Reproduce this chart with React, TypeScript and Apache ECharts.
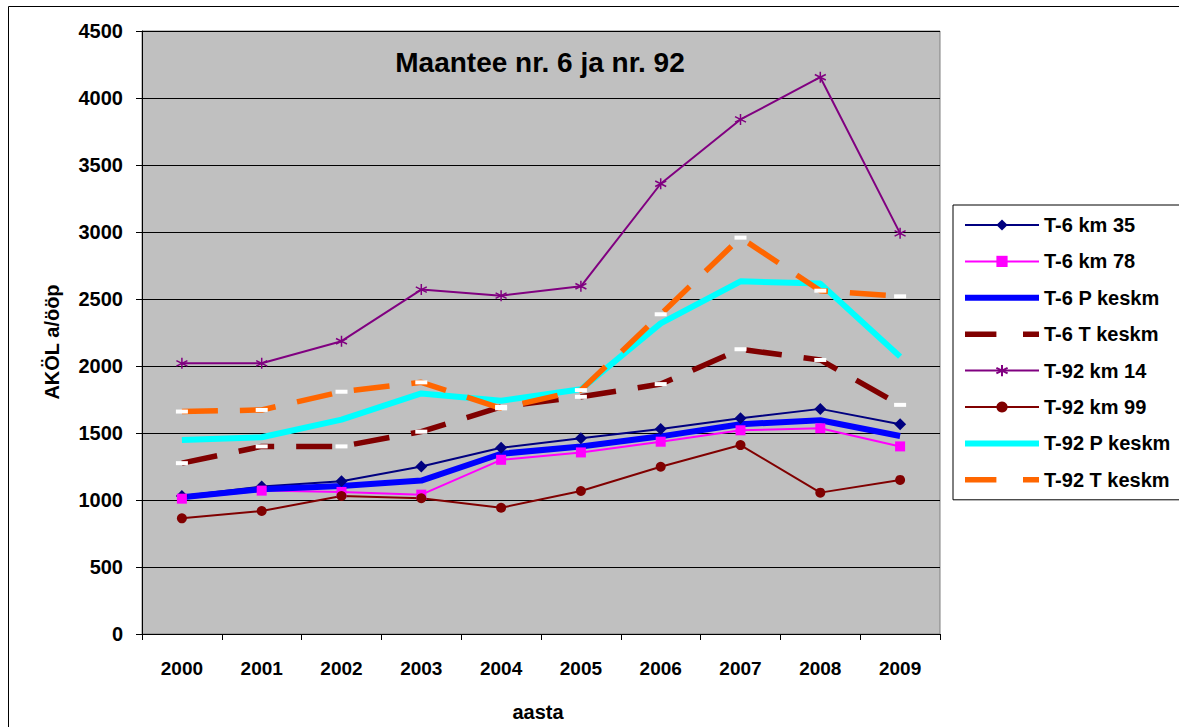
import React, { useEffect, useRef } from "react";
import * as echarts from "echarts";

const years = ["2000", "2001", "2002", "2003", "2004", "2005", "2006", "2007", "2008", "2009"];
const t6km35 = [1030, 1100, 1140, 1250, 1390, 1460, 1530, 1610, 1680, 1565];
const t6km78 = [1010, 1070, 1060, 1040, 1300, 1355, 1435, 1520, 1535, 1400];
const t6P = [1020, 1080, 1105, 1145, 1345, 1400, 1475, 1565, 1595, 1478];
const t6T = [1275, 1400, 1400, 1510, 1695, 1770, 1865, 2125, 2045, 1710];
const t92km14 = [2020, 2020, 2185, 2570, 2525, 2595, 3360, 3840, 4155, 2990];
const t92km99 = [863, 918, 1030, 1013, 942, 1067, 1248, 1410, 1055, 1150];
const t92P = [1448, 1468, 1600, 1795, 1740, 1826, 2318, 2632, 2615, 2070];
const t92T = [1660, 1672, 1808, 1878, 1684, 1820, 2386, 2958, 2562, 2520];

const FONT = "'Liberation Sans', Arial, sans-serif";
const ASTERISK = "path://M5,0L5,10M0.7,2.5L9.3,7.5M0.7,7.5L9.3,2.5";
const DASHMARK = "path://M0,0L12,0L12,4L0,4Z";

export default function App() {
  const ref = useRef<HTMLDivElement>(null);
  useEffect(() => {
    if (!ref.current) return;
    const chart = echarts.init(ref.current, null, { renderer: "svg" });
    const thin = (name: string, data: number[], color: string, symbol: string, size: number, extra: any = {}) => ({
      name,
      type: "line",
      data,
      symbol,
      symbolSize: size,
      showSymbol: true,
      lineStyle: { color, width: 2 },
      itemStyle: { color, borderWidth: 0, ...extra },
      emphasis: { disabled: true },
    });
    const thick = (name: string, data: number[], color: string) => ({
      name,
      type: "line",
      data,
      symbol: "none",
      showSymbol: false,
      lineStyle: { color, width: 6 },
      itemStyle: { color },
      emphasis: { disabled: true },
    });
    const dashed = (name: string, data: number[], color: string) => ({
      name,
      type: "line",
      data,
      symbol: DASHMARK,
      symbolSize: 12,
      symbolKeepAspect: true,
      showSymbol: true,
      lineStyle: { color, width: 5.5, type: [36, 22], cap: "butt" },
      itemStyle: { color: "#ffffff", borderWidth: 0 },
      emphasis: { disabled: true },
    });
    const names = ["T-6 km 35", "T-6 km 78", "T-6 P keskm", "T-6 T keskm", "T-92 km 14", "T-92 km 99", "T-92 P keskm", "T-92 T keskm"];
    const noSymbol = new Set(["T-6 P keskm", "T-92 P keskm"]);
    chart.setOption({
      animation: false,
      backgroundColor: "#ffffff",
      textStyle: { fontFamily: FONT },
      grid: {
        left: 142,
        right: 239,
        top: 31,
        bottom: 93,
        show: true,
        backgroundColor: "#c0c0c0",
        borderColor: "#808080",
        borderWidth: 1,
      },
      legend: {
        orient: "vertical",
        left: 953,
        top: 205,
        padding: [10, 9, 10, 9],
        itemWidth: 74,
        itemHeight: 14,
        itemGap: 16.4,
        borderColor: "#000000",
        borderWidth: 1,
        backgroundColor: "#ffffff",
        selectedMode: false,
        lineStyle: { width: "inherit" },
        data: names.map((n) => (noSymbol.has(n) ? { name: n, itemStyle: { opacity: 0 } } : { name: n })),
        textStyle: { fontFamily: FONT, fontSize: 20, fontWeight: "bold", color: "#000000", lineHeight: 20 },
      },
      xAxis: {
        type: "category",
        data: years,
        boundaryGap: true,
        axisLine: { lineStyle: { color: "#000000", width: 1 } },
        axisTick: { show: true, interval: 0, alignWithLabel: false, length: 6, lineStyle: { color: "#000000" } },
        axisLabel: { interval: 0, margin: 25, fontFamily: FONT, fontSize: 19, fontWeight: "bold", color: "#000000" },
        splitLine: { show: false },
      },
      yAxis: {
        type: "value",
        min: 0,
        max: 4500,
        interval: 500,
        axisLine: { show: true, lineStyle: { color: "#000000", width: 1 } },
        axisTick: { show: true, length: 6, lineStyle: { color: "#000000" } },
        axisLabel: {
          margin: 19,
          fontFamily: FONT,
          fontSize: 20,
          fontWeight: "bold",
          color: "#000000",
          formatter: (v: number) => String(v),
        },
        splitLine: { show: true, lineStyle: { color: "#000000", width: 1 } },
      },
      graphic: [
        {
          type: "rect",
          shape: { x: 8.5, y: 6.5, width: 2000, height: 2000 },
          style: { fill: "none", stroke: "#000000", lineWidth: 1 },
          silent: true,
          z: -10,
        },
        {
          type: "text",
          x: 540,
          y: 62,
          style: {
            text: "Maantee nr. 6 ja nr. 92",
            font: `bold 28px ${FONT}`,
            fill: "#000000",
            textAlign: "center",
            textVerticalAlign: "middle",
          },
          z: 10,
        },
        {
          type: "text",
          x: 52,
          y: 342,
          rotation: Math.PI / 2,
          style: {
            text: "AKÖL a/ööp",
            font: `bold 20px ${FONT}`,
            fill: "#000000",
            textAlign: "center",
            textVerticalAlign: "middle",
          },
        },
        {
          type: "text",
          x: 538,
          y: 712,
          style: {
            text: "aasta",
            font: `bold 20px ${FONT}`,
            fill: "#000000",
            textAlign: "center",
            textVerticalAlign: "middle",
          },
        },
      ],
      series: [
        thin("T-6 km 35", t6km35, "#000080", "diamond", 12),
        thin("T-6 km 78", t6km78, "#ff00ff", "rect", 10),
        thick("T-6 P keskm", t6P, "#0000ff"),
        dashed("T-6 T keskm", t6T, "#800000"),
        thin("T-92 km 14", t92km14, "#800080", ASTERISK, 11, { borderColor: "#800080", borderWidth: 1.5 }),
        thin("T-92 km 99", t92km99, "#800000", "circle", 10),
        thick("T-92 P keskm", t92P, "#00ffff"),
        dashed("T-92 T keskm", t92T, "#ff6600"),
      ],
    });
    return () => chart.dispose();
  }, []);
  return <div ref={ref} style={{ position: "absolute", left: 0, top: 0, width: 1179, height: 727 }} />;
}
